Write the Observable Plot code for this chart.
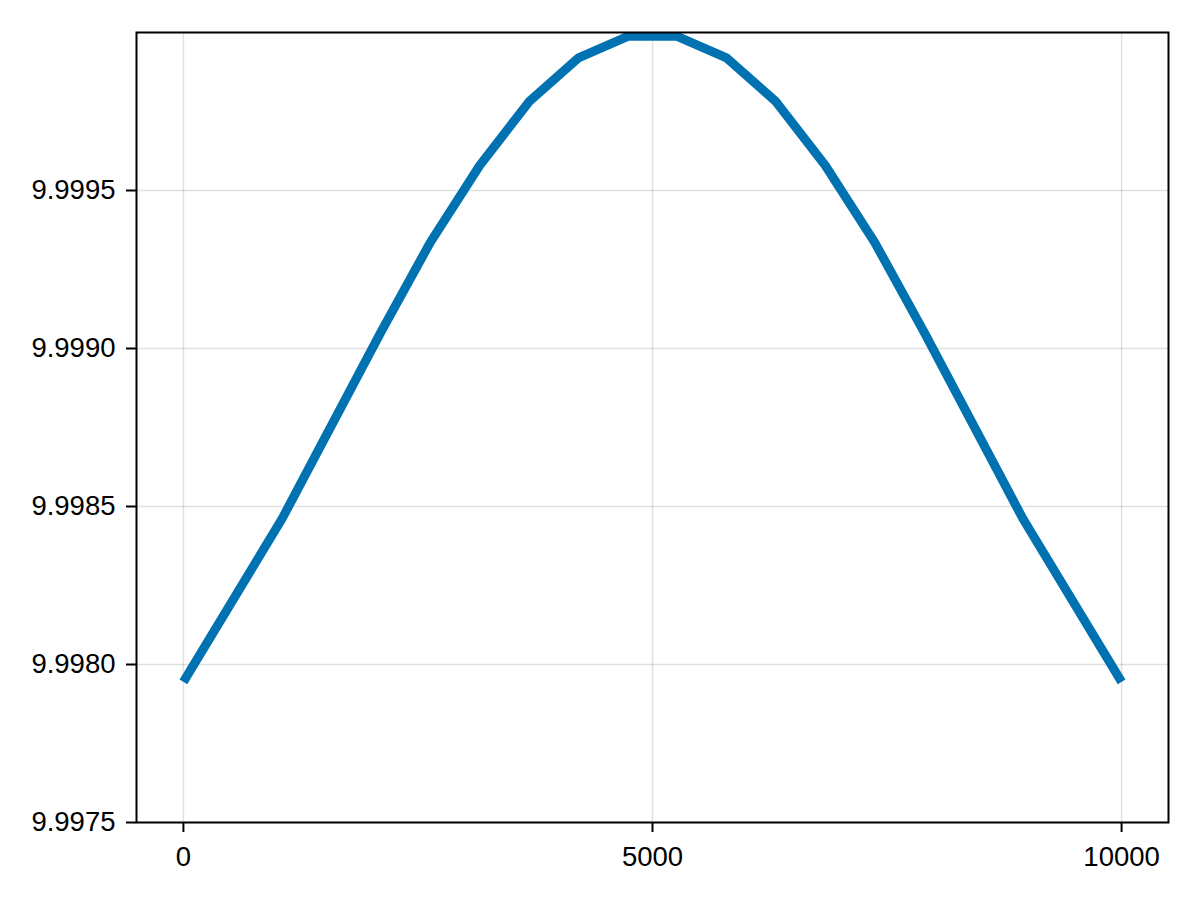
<!DOCTYPE html>
<html>
<head>
<meta charset="utf-8">
<script src="https://cdn.jsdelivr.net/npm/d3@7"></script>
<script src="https://cdn.jsdelivr.net/npm/@observablehq/plot@0.6"></script>
<style>
  html, body { margin: 0; padding: 0; background: #fff; }
  #chart { width: 1200px; height: 900px; }
</style>
</head>
<body>
<div id="chart"></div>
<script>
const xs = [0, 1053, 2105, 2632, 3158, 3684, 4211, 4737, 5263, 5789, 6316, 6842, 7368, 7895, 8947, 10000];
const ys = [9.997945, 9.998462, 9.999052, 9.999336, 9.999579, 9.999781, 9.999920, 9.999988,
            9.999988, 9.999920, 9.999781, 9.999579, 9.999336, 9.999052, 9.998462, 9.997945];
const xTicks = [0, 5000, 10000];
const yTicks = [9.9975, 9.9980, 9.9985, 9.9990, 9.9995];

const data = xs.map((x, i) => ({x, y: ys[i]}));

const chart = Plot.plot({
  width: 1200,
  height: 900,
  marginLeft: 136,
  marginRight: 32,
  marginTop: 32,
  marginBottom: 78,
  style: {fontFamily: "'Liberation Sans', Arial, sans-serif", background: "#fff", color: "#000"},
  x: {domain: [-500, 10500], label: null},
  y: {domain: [9.9975, 10.0], label: null},
  marks: [
    Plot.gridX(xTicks, {stroke: "#000", strokeOpacity: 0.12, strokeWidth: 1.5}),
    Plot.gridY(yTicks, {stroke: "#000", strokeOpacity: 0.12, strokeWidth: 1.5}),
    Plot.line(data, {x: "x", y: "y", stroke: "#0072b2", strokeWidth: 9, clip: true, strokeLinejoin: "miter", strokeLinecap: "butt"}),
    Plot.frame({stroke: "#000", strokeWidth: 2}),
    Plot.axisX(xTicks, {label: null, tickSize: 10, tickPadding: 14, fontSize: 27.5, strokeWidth: 2, tickFormat: d3.format("d"), fill: "#000", stroke: "#000"}),
    Plot.axisY(yTicks, {label: null, tickSize: 10, tickPadding: 11, fontSize: 27.5, strokeWidth: 2, tickFormat: d3.format(".4f"), fill: "#000", stroke: "#000"})
  ]
});
document.getElementById("chart").appendChild(chart);
</script>
</body>
</html>
